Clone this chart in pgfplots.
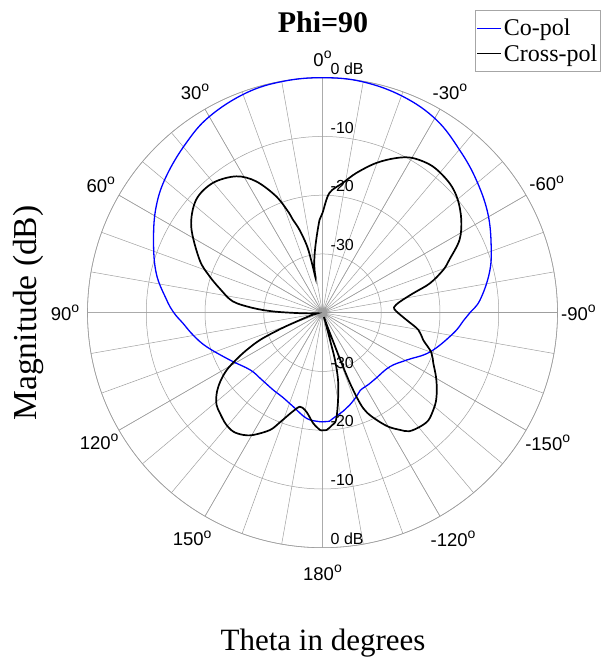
\documentclass[border=0pt]{standalone}
\usepackage{pgfplots}
\pgfplotsset{compat=1.18}
\usepackage{pgfplotstable}
\usepgfplotslibrary{polar}
\usepackage{fontspec}
\setmainfont{Liberation Serif}
\setsansfont{Liberation Sans}
\newcommand{\dg}{\raisebox{7.5pt}{\fontsize{14}{14}\selectfont o}}

\pgfplotstableread{
theta db
-180 -21.45
-176.3 -21.5
-174.4 -21.9
-168 -22.9
-163.7 -23.6
-158 -24.6
-154.1 -25.3
-146.7 -25.5
-140.6 -25.6
-128.7 -25.3
-119.3 -23.55
-110 -20.5
-98.95 -17.46
-93 -15.9
-90 -14.9
-85.4 -13.1
-76.6 -10.8
-68.5 -9.14
-58.9 -7.15
-49.1 -5.4
-40.0 -3.76
-30.5 -1.87
-20.4 -0.73
-9.8 -0.1
0 0
9.7 -0.05
19.2 -0.4
29.9 -1.45
38.8 -2.95
48.9 -4.7
57.4 -6.4
66.6 -8.66
76.6 -10.9
85.0 -13.3
90 -14.7
94.4 -16.2
100 -17.7
106.4 -19.45
117.1 -22.3
128.3 -24.3
137 -24.6
147.5 -24.4
154.6 -24.1
162.7 -23.25
171.5 -21.8
178.4 -21.45
180 -21.45
}\copol

\pgfplotstableread{
theta db
-180 -20.0
-178 -20.02
-175.2 -20.77
-172.8 -21.6
-169.9 -24.9
-167 -28.24
-165.2 -31.68
-164.6 -35.18
-163.5 -38.0
-162 -39.2
-160.5 -37.8
-159.8 -35.57
-159.3 -31.49
-158.7 -27.1
-157.5 -23.32
-156 -21.4
-153.2 -19.54
-150 -17.6
-146.5 -16.07
-143.8 -15.0
-139.5 -14.47
-135.5 -14.3
-131.3 -14.9
-128 -15.5
-124.1 -16.5
-119.5 -17.8
-114.5 -19.27
-110 -20.3
-105.2 -22.23
-100.2 -23.4
-95 -25.62
-89.2 -27.37
-85.7 -27.8
-81.9 -26.67
-77.9 -24.2
-74.7 -21.04
-70.5 -18.2
-67.3 -16.58
-62 -13.58
-56.2 -11.57
-50.1 -9.99
-44.4 -9.11
-37 -8.82
-30.3 -9.51
-25.5 -10.83
-19.7 -12.94
-13.6 -15.54
-8.9 -17.65
-3.3 -19.59
0 -23.03
1.8 -24.17
4.9 -27.52
8.1 -30.31
10.5 -32.51
11.3 -34.0
12.0 -31.49
13.0 -28.43
15.5 -25.36
17.7 -23.32
18.5 -22.13
21.7 -18.69
26.8 -14.96
32.3 -12.54
40.2 -11.08
48.2 -11.15
56.7 -13.26
66.7 -17.21
72 -19.74
77 -22.13
82.8 -24.61
86.1 -28.1
88.5 -31.54
90.7 -35.52
93 -37.8
97 -39.2
102 -38.3
108 -36.0
111 -32.5
113.5 -28.5
116.2 -25.6
118.5 -23.3
120.9 -21.0
124 -19.0
127.3 -17.36
131 -16.1
134.5 -15.55
139 -14.9
143.1 -14.7
147 -15.2
150.5 -16.09
155.9 -18.13
158.8 -20.0
161.5 -21.6
163.6 -22.6
166.5 -23.54
169.8 -23.17
172.5 -22.3
175.2 -21.11
178.8 -20.03
180 -20.0
}\xpol

\begin{document}
\begin{tikzpicture}[x=1pt,y=1pt]
\useasboundingbox (0,0) rectangle (601,658);
\begin{polaraxis}[
  scale only axis, width=470pt, height=470pt,
  at={(322.5pt,345.3pt)}, anchor=center,
  clip=false,
  xmin=0, xmax=360, ymin=0, ymax=40,
  xtick={0,30,...,330}, xticklabels={},
  minor xtick={0,10,...,350},
  ytick={10,20,30,40}, yticklabels={},
  grid=both,
  major grid style={gray!75, line width=0.5pt},
  minor grid style={gray!75, line width=0.5pt},
  axis line style={gray!75, line width=0.6pt},
  major tick length=0pt, minor tick length=0pt,
  legend style={at={(1.0915,1.144)}, anchor=north east, draw=gray!70,
    font=\fontsize{24}{24}\selectfont, inner xsep=1pt, inner ysep=7pt, row sep=3pt},
  legend cell align=left,
  legend image code/.code={\draw[#1] (0pt,0pt) -- (24pt,0pt);},
]
\addplot[blue, line width=1.3pt, no markers, smooth, tension=0.65] table[x expr=\thisrow{theta}+90, y expr=\thisrow{db}+40] {\copol};
\addlegendentry{Co-pol}
\addplot[black, line width=1.7pt, no markers, smooth, tension=0.55] table[x expr=\thisrow{theta}+90, y expr=\thisrow{db}+40] {\xpol};
\addlegendentry{Cross-pol}
\tikzset{rl/.style={anchor=south west, font=\sffamily\fontsize{16}{17}\selectfont, inner sep=0pt, xshift=8pt, yshift=3pt},
  al/.style={anchor=center, font=\sffamily\fontsize{18.5}{19}\selectfont, inner sep=0pt}}
\node[rl] at (axis cs:90,40) {0 dB};
\node[rl] at (axis cs:90,30) {-10};
\node[rl] at (axis cs:90,20) {-20};
\node[rl] at (axis cs:90,10) {-30};
\node[rl] at (axis cs:270,40) {0 dB};
\node[rl] at (axis cs:270,30) {-10};
\node[rl] at (axis cs:270,20) {-20};
\node[rl] at (axis cs:270,10) {-30};
\node[al] at (axis cs:90,43.23) {0\dg};
\node[al] at (axis cs:120,43.40) {30\dg};
\node[al] at (axis cs:150,43.57) {60\dg};
\node[al] at (axis cs:180,43.83) {90\dg};
\node[al] at (axis cs:210,43.91) {120\dg};
\node[al] at (axis cs:240,44.36) {150\dg};
\node[al] at (axis cs:270,44.26) {180\dg};
\node[al] at (axis cs:300,44.43) {-120\dg};
\node[al] at (axis cs:330,44.26) {-150\dg};
\node[al] at (axis cs:0,43.57) {-90\dg};
\node[al] at (axis cs:30,44.05) {-60\dg};
\node[al] at (axis cs:60,43.37) {-30\dg};
\end{polaraxis}
\node[font=\bfseries\fontsize{30}{32}\selectfont] at (323,636) {Phi=90};
\node[rotate=90, font=\fontsize{33.5}{35}\selectfont] at (28,345) {Magnitude (dB)};
\node[font=\fontsize{31}{33}\selectfont] at (323,15) {Theta in degrees};
\end{tikzpicture}
\end{document}
